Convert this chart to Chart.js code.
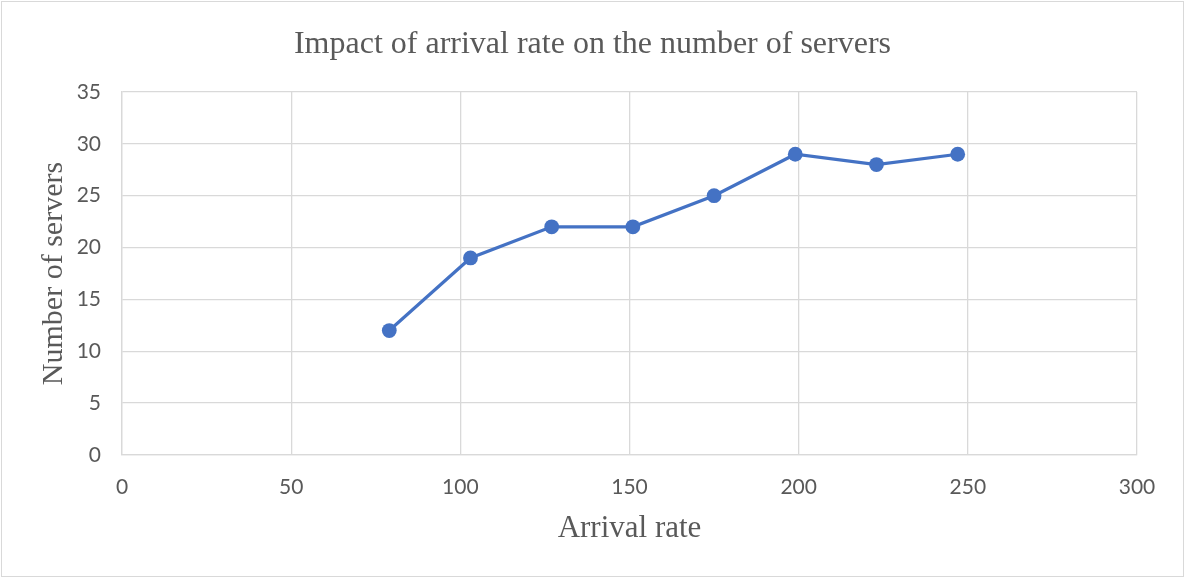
<!DOCTYPE html>
<html>
<head>
<meta charset="utf-8">
<script src="https://cdn.jsdelivr.net/npm/chart.js@4/dist/chart.umd.min.js"></script>
<style>
  html, body { margin: 0; padding: 0; background: #fff; }
  #wrap { position: relative; width: 1185px; height: 578px; }
  #c { position: absolute; left: 0; top: 0; }
  #frame { position: absolute; left: 1px; top: 1px; width: 1181px; height: 574px;
           border: 1px solid #d9d9d9; pointer-events: none; }
</style>
</head>
<body>
<div id="wrap">
  <canvas id="c" width="1185" height="578"></canvas>
  <div id="frame"></div>
</div>
<script>
// Arrival rate vs. number of servers needed
const arrivalRates = [79, 103, 127, 151, 175, 199, 223, 247];
const serverCounts = [12, 19, 22, 22, 25, 29, 28, 29];
const xTicks = [0, 50, 100, 150, 200, 250, 300];
const yTicks = [0, 5, 10, 15, 20, 25, 30, 35];

const chartTitle = 'Impact of arrival rate on the number of servers';
const xTitle = 'Arrival rate';
const yTitle = 'Number of servers';

const points = arrivalRates.map((x, i) => ({ x: x, y: serverCounts[i] }));

const GRID = '#d9d9d9';
const TEXT = '#595959';
const SERIF = '"Liberation Serif", "Times New Roman", serif';
const SANS = 'Lato, "Open Sans", sans-serif';

new Chart(document.getElementById('c'), {
  type: 'scatter',
  data: {
    datasets: [{
      data: points,
      showLine: true,
      borderColor: '#4472C4',
      backgroundColor: '#4472C4',
      borderWidth: 3.2,
      pointRadius: 7.4,
      pointHoverRadius: 7.4,
      pointBorderWidth: 0
    }]
  },
  options: {
    responsive: false,
    animation: false,
    events: [],
    layout: { padding: 0 },
    plugins: {
      legend: { display: false },
      tooltip: { enabled: false },
      title: {
        display: true,
        text: chartTitle,
        color: TEXT,
        font: { family: SERIF, size: 32, weight: 'normal', lineHeight: 1.2 },
        padding: { top: 25, bottom: 28.6 }
      }
    },
    scales: {
      x: {
        type: 'linear',
        min: 0,
        max: 300,
        afterBuildTicks: s => { s.ticks = xTicks.map(v => ({ value: v })); },
        afterFit: s => { s.height = 578 - 455; },
        grid: { color: GRID, lineWidth: 1.3, drawTicks: false },
        border: { color: GRID, width: 1.3 },
        ticks: { color: TEXT, font: { family: SANS, size: 21 }, padding: 20, maxRotation: 0 },
        title: {
          display: true,
          text: xTitle,
          color: TEXT,
          font: { family: SERIF, size: 31, weight: 'normal', lineHeight: 1.2 },
          padding: { top: 0, bottom: 31 }
        }
      },
      y: {
        type: 'linear',
        min: 0,
        max: 35,
        afterBuildTicks: s => { s.ticks = yTicks.map(v => ({ value: v })); },
        afterFit: s => { s.width = 122; },
        grid: { color: GRID, lineWidth: 1.3, drawTicks: false },
        border: { color: GRID, width: 1.3 },
        ticks: { color: TEXT, font: { family: SANS, size: 21 }, padding: 21 },
        title: {
          display: true,
          text: yTitle,
          color: TEXT,
          font: { family: SERIF, size: 30, weight: 'normal', lineHeight: 1.2 },
          padding: { top: 36, bottom: 0 }
        }
      },
      // empty right-hand margin so the title stays centred on the whole frame
      yRight: {
        type: 'linear',
        position: 'right',
        min: 0,
        max: 35,
        afterFit: s => { s.width = 48; },
        grid: { display: false, drawTicks: false },
        border: { display: false },
        ticks: { display: false },
        title: { display: false }
      }
    }
  }
});
</script>
</body>
</html>
